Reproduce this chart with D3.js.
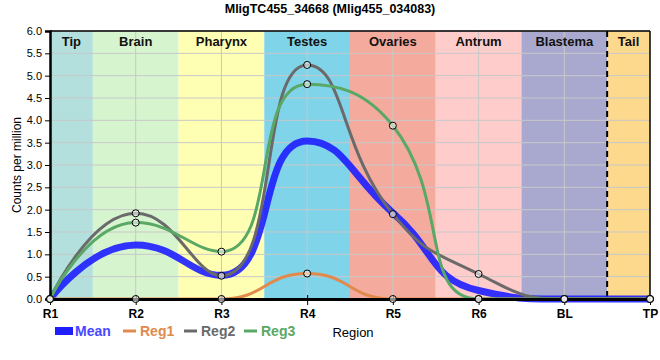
<!DOCTYPE html>
<html><head><meta charset="utf-8">
<script src="https://cdn.jsdelivr.net/npm/d3@7/dist/d3.min.js"></script>
<style>body{margin:0;background:#fff}svg{display:block;font-family:"Liberation Sans",Arial,sans-serif}</style>
</head><body><svg id="c" width="660" height="360"></svg>
<script>
const categories = ["R1","R2","R3","R4","R5","R6","BL","TP"];
const regions = ["Tip","Brain","Pharynx","Testes","Ovaries","Antrum","Blastema","Tail"];
const regionColors = ["#b3e0dc","#d6f5cf","#ffffb4","#7fd4ea","#f5aa9e","#ffcccc","#a9a9d0","#fdd98e"];
const reg1 = [0,0,0,0.57,0,0,0,0];
const reg2 = [0,1.92,0.52,5.24,1.90,0.56,0,0];
const reg3 = [0,1.71,1.06,4.81,3.88,0,0,0];
const mean = [0,1.21,0.53,3.54,1.93,0.19,0,0];
const yTicks = [0,0.5,1,1.5,2,2.5,3,3.5,4,4.5,5,5.5,6];
const seriesNames = ["Mean","Reg1","Reg2","Reg3"];
const seriesColors = ["#1e1eff","#e08a4e","#6a6a6a","#5aa865"];

const svg = d3.select("#c");
const L=50,R=650,T=31,B=299;
const x = d3.scaleLinear().domain([0,categories.length-1]).range([L,R]);
const y = d3.scaleLinear().domain([0,6]).range([B,T]);

// length-ratio smoothing with extreme clamping (pixel space)
function splinePath(vals, smooth=0.5){
  const pts = vals.map((v,i)=>[x(i),y(v)]);
  const p = d3.path();
  const mn=Math.min, mx=Math.max;
  let [prevX,prevY]=pts[0], cpx0=prevX, cpy0=prevY;
  p.moveTo(prevX,prevY);
  for(let i=1;i<pts.length;i++){
    const [px,py]=pts[i];
    let cpx1, cpy1, ncx=px, ncy=py;
    if(i===pts.length-1){cpx1=px;cpy1=py;}
    else{
      const [nx,ny]=pts[i+1];
      let vx=nx-prevX, vy=ny-prevY;
      const lp=Math.hypot(px-prevX,py-prevY), ln=Math.hypot(nx-px,ny-py);
      const ratio=ln/(ln+lp);
      ncx=px+vx*smooth*ratio; ncy=py+vy*smooth*ratio;
      ncx=mn(ncx,mx(nx,px)); ncy=mn(ncy,mx(ny,py));
      ncx=mx(ncx,mn(nx,px)); ncy=mx(ncy,mn(ny,py));
      vx=ncx-px; vy=ncy-py;
      cpx1=px-vx*lp/ln; cpy1=py-vy*lp/ln;
      cpx1=mn(cpx1,mx(prevX,px)); cpy1=mn(cpy1,mx(prevY,py));
      cpx1=mx(cpx1,mn(prevX,px)); cpy1=mx(cpy1,mn(prevY,py));
      vx=px-cpx1; vy=py-cpy1;
      ncx=px+vx*ln/lp; ncy=py+vy*ln/lp;
    }
    p.bezierCurveTo(cpx0,cpy0,cpx1,cpy1,px,py);
    cpx0=ncx; cpy0=ncy; prevX=px; prevY=py;
  }
  return p.toString();
}

// region bands
regions.forEach((r,i)=>{
  const x0 = x(Math.max(0,i-0.5)), x1 = x(Math.min(categories.length-1,i+0.5));
  svg.append("rect").attr("x",x0).attr("y",T).attr("width",x1-x0).attr("height",B-T).attr("fill",regionColors[i]);
});
// grid
svg.append("g").selectAll("line").data(yTicks.slice(1)).join("line")
  .attr("x1",L).attr("x2",R).attr("y1",d=>y(d)).attr("y2",d=>y(d)).attr("stroke","#c8c8c8").attr("stroke-width",1);
svg.append("g").selectAll("line").data(d3.range(1,categories.length-1)).join("line")
  .attr("x1",d=>x(d)).attr("x2",d=>x(d)).attr("y1",T).attr("y2",B).attr("stroke","#c8c8c8").attr("stroke-width",1);
// region labels
regions.forEach((r,i)=>{
  const x0 = x(Math.max(0,i-0.5)), x1 = x(Math.min(categories.length-1,i+0.5));
  svg.append("text").attr("x",(x0+x1)/2).attr("y",46).attr("text-anchor","middle")
    .attr("font-size",13).attr("font-weight","bold").attr("fill","#111").text(r);
});
// dashed separator
svg.append("line").attr("x1",x(6.5)).attr("x2",x(6.5)).attr("y1",T).attr("y2",B)
  .attr("stroke","#000").attr("stroke-width",2).attr("stroke-dasharray","6,4");

svg.append("path").attr("d",splinePath(mean)).attr("fill","none").attr("stroke",seriesColors[0]).attr("stroke-width",7).attr("stroke-opacity",0.9);
[reg1,reg2,reg3].forEach((s,k)=>{
  svg.append("path").attr("d",splinePath(s)).attr("fill","none").attr("stroke",seriesColors[k+1]).attr("stroke-width",3);
});

// axes
svg.append("g").attr("transform",`translate(${L},0)`)
  .call(d3.axisLeft(y).tickValues(yTicks).tickFormat(d3.format(".1f")).tickSize(5).tickPadding(3))
  .call(g=>{g.select(".domain").attr("stroke-width",2.5);g.selectAll("text").attr("font-size",11).attr("fill","#000").attr("font-family","Liberation Sans, Arial");});
svg.append("g").attr("transform",`translate(0,${B})`)
  .call(d3.axisBottom(x).tickValues(d3.range(categories.length)).tickFormat(i=>categories[i]).tickSize(6).tickSizeOuter(0).tickPadding(4))
  .call(g=>{g.select(".domain").attr("stroke-width",3);
    g.selectAll(".tick line").attr("y1",-4);
    g.selectAll("text").attr("font-size",12).attr("font-weight","bold").attr("fill","#000").attr("font-family","Liberation Sans, Arial");});
svg.append("line").attr("x1",L).attr("x2",R).attr("y1",T).attr("y2",T).attr("stroke","#000").attr("stroke-width",1.5);
svg.append("line").attr("x1",R).attr("x2",R).attr("y1",T).attr("y2",B).attr("stroke","#000").attr("stroke-width",1.5);

// points
[reg1,reg2,reg3].forEach(s=>{
  svg.append("g").selectAll("circle").data(s).join("circle")
    .attr("cx",(d,i)=>x(i)).attr("cy",d=>y(d)).attr("r",3.5)
    .attr("fill","rgba(255,255,255,0.55)").attr("stroke","#000").attr("stroke-width",1);
});

// titles
svg.append("text").attr("x",330).attr("y",13).attr("text-anchor","middle").attr("font-size",12.5).attr("font-weight","bold").text("MligTC455_34668 (Mlig455_034083)");
svg.append("text").attr("transform",`translate(21,${(T+B)/2}) rotate(-90)`).attr("text-anchor","middle").attr("font-size",12).text("Counts per million");
svg.append("text").attr("x",353).attr("y",337).attr("text-anchor","middle").attr("font-size",13).attr("font-family","Liberation Sans Narrow, Arial").text("Region");

// legend
const lx = [55,120,181,241];
seriesNames.forEach((n,k)=>{
  const g = svg.append("g").attr("transform",`translate(${lx[k]},331)`);
  if(k===0) g.append("rect").attr("x",0).attr("y",-4).attr("width",18).attr("height",8).attr("fill",seriesColors[0]);
  else g.append("line").attr("x1",3).attr("x2",16).attr("y1",0).attr("y2",0).attr("stroke",seriesColors[k]).attr("stroke-width",3);
  g.append("text").attr("x",20).attr("y",5).attr("font-size",14).attr("font-weight","bold").attr("font-family","Liberation Sans Narrow, Arial")
    .attr("fill",k===0?"#4848ff":seriesColors[k]).text(n);
});
</script></body></html>
